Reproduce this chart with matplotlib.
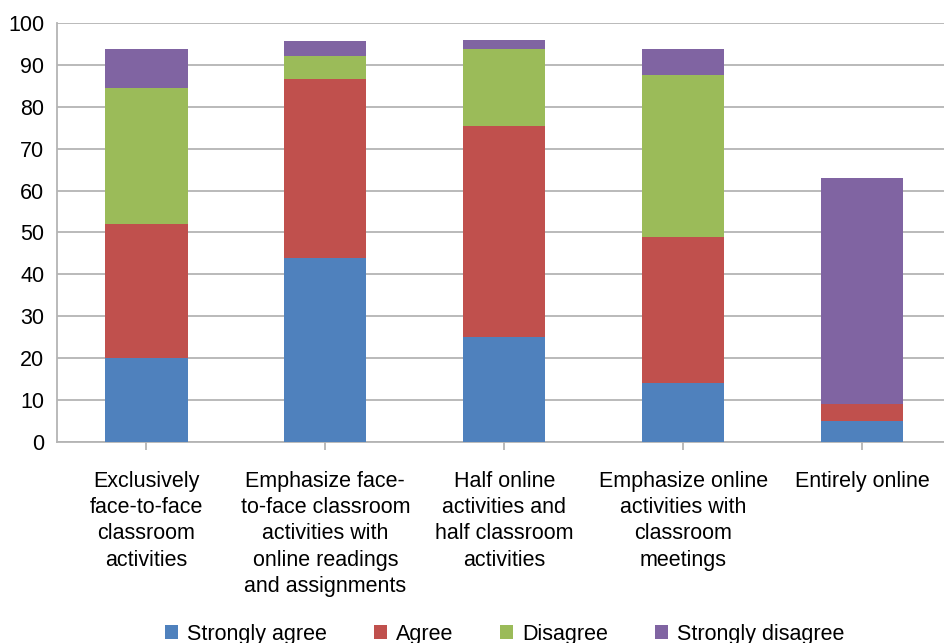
import matplotlib.pyplot as plt
import numpy as np

plt.rcParams['font.family'] = ['Liberation Sans', 'DejaVu Sans']

categories = ["Exclusively\nface-to-face\nclassroom\nactivities",
              "Emphasize face-\nto-face classroom\nactivities with\nonline readings\nand assignments",
              "Half online\nactivities and\nhalf classroom\nactivities",
              "Emphasize online\nactivities with\nclassroom\nmeetings",
              "Entirely online"]
strongly_agree = [20, 44, 25, 14, 5]
agree = [32, 42.6, 50.5, 35, 4]
disagree = [32.5, 5.5, 18.3, 38.7, 0]
strongly_disagree = [9.3, 3.6, 2.2, 6.1, 54]

series = [("Strongly agree", strongly_agree, '#4F81BD'),
          ("Agree", agree, '#C0504D'),
          ("Disagree", disagree, '#9BBB59'),
          ("Strongly disagree", strongly_disagree, '#8064A2')]

fig = plt.figure(figsize=(9.45, 6.43), dpi=100)
ax = fig.add_axes([57/945, 1 - 442/643, (951.5 - 57)/945, (442 - 23)/643])

x = np.arange(len(categories))
bottom = np.zeros(len(categories))
for name, vals, col in series:
    ax.bar(x, vals, 0.46, bottom=bottom, color=col, label=name, zorder=3)
    bottom += np.array(vals)

ax.set_xlim(-0.5, 4.5)
ax.set_ylim(0, 100)
ax.set_yticks(np.arange(0, 101, 10))
ax.yaxis.grid(True, color='#b4b4b4', linewidth=1.3, zorder=0)
ax.set_axisbelow(True)
for s in ['top', 'right']:
    ax.spines[s].set_visible(False)
for s in ['left', 'bottom']:
    ax.spines[s].set_color('#b4b4b4')
    ax.spines[s].set_linewidth(1.3)
ax.tick_params(axis='y', length=0, pad=9, labelsize=15.5)
ax.tick_params(axis='x', length=6, color='#b4b4b4', width=1.3, pad=15, labelsize=15.5)
ax.set_xticks(x)
ax.set_xticklabels(categories, linespacing=1.32, va='top', ha='center')

fig.legend(loc='lower center', bbox_to_anchor=(0.534, -0.033), ncol=4, frameon=False,
           fontsize=15.5, handlelength=0.6, handleheight=0.6, handletextpad=0.4,
           columnspacing=2.2)

fig.savefig('out.png', dpi=100)
